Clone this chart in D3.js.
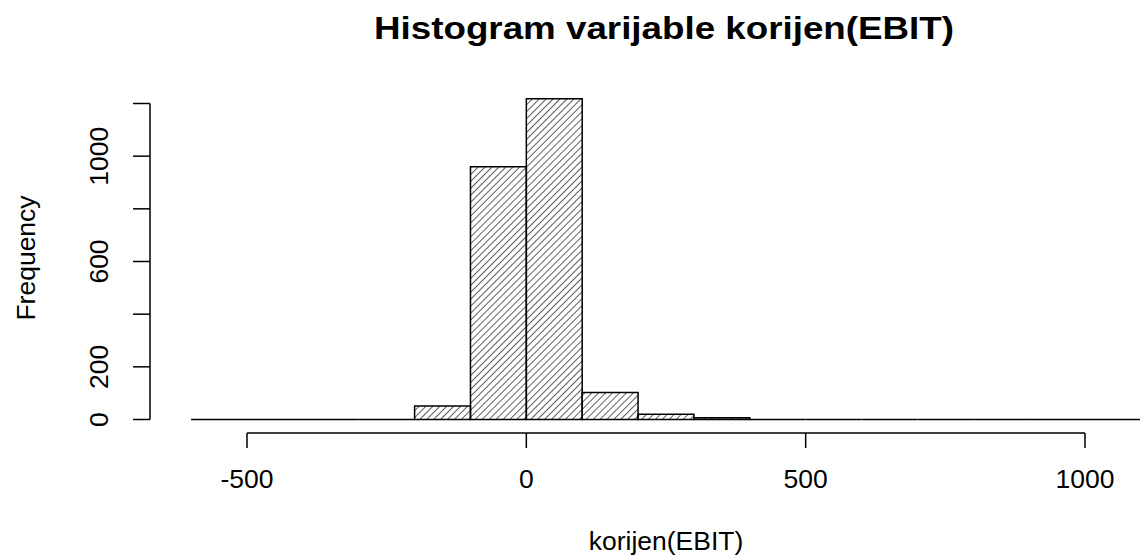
<!DOCTYPE html>
<html>
<head>
<meta charset="utf-8">
<script src="https://cdn.jsdelivr.net/npm/d3@7"></script>
<style>
  html, body { margin: 0; padding: 0; background: #fff; }
  svg { display: block; }
  text { font-family: "Liberation Sans", Arial, sans-serif; fill: #000; }
</style>
</head>
<body>
<svg id="chart" width="1140" height="555"></svg>
<script>
// Histogram bins (lower edges, width 100) and counts
const binStarts = [-600, -500, -400, -300, -200, -100, 0, 100, 200, 300, 400, 500, 600, 700, 800, 900, 1000, 1100];
const binWidth = 100;
const counts    = [0, 0, 0, 0, 51, 960, 1218, 103, 20, 7, 0, 0, 0, 0, 0, 0, 0, 0];
const xTicks = [-500, 0, 500, 1000];
const yTicks = [0, 200, 400, 600, 800, 1000, 1200];
const yTickLabels = ["0", "200", "", "600", "", "1000", ""];
const titleText = "Histogram varijable korijen(EBIT)";
const xLabel = "korijen(EBIT)";
const yLabel = "Frequency";

const svg = d3.select("#chart");
const x = d3.scaleLinear().domain([-500, 1000]).range([247, 1085]);
const y = d3.scaleLinear().domain([0, 1200]).range([419.5, 103.5]);

// hatch pattern
const defs = svg.append("defs");
const pat = defs.append("pattern")
  .attr("id", "hatch")
  .attr("patternUnits", "userSpaceOnUse")
  .attr("width", 4.9).attr("height", 4.9)
  .attr("patternTransform", "rotate(45)");
pat.append("line")
  .attr("x1", 0).attr("y1", -1).attr("x2", 0).attr("y2", 6)
  .attr("stroke", "#111").attr("stroke-width", 1.35);

const bins = binStarts.map((s, i) => ({ x0: s, x1: s + binWidth, n: counts[i] }));

const bars = svg.append("g");
bars.selectAll("rect.fill")
  .data(bins.filter(d => d.n > 0))
  .join("rect")
  .attr("x", d => x(d.x0))
  .attr("y", d => y(d.n))
  .attr("width", d => x(d.x1) - x(d.x0))
  .attr("height", d => y(0) - y(d.n))
  .attr("fill", "url(#hatch)");
bars.selectAll("path.border")
  .data(bins)
  .join("path")
  .attr("d", d => `M${x(d.x0)},${y(0)}V${y(d.n)}H${x(d.x1)}V${y(0)}Z`)
  .attr("fill", "none")
  .attr("stroke", "#000")
  .attr("stroke-width", 1.5);

// x axis (R style, offset below)
const xAxisY = 433;
const gx = svg.append("g").attr("transform", `translate(0,${xAxisY})`);
gx.append("line")
  .attr("x1", x(xTicks[0])).attr("x2", x(xTicks[xTicks.length - 1]))
  .attr("y1", 0).attr("y2", 0)
  .attr("stroke", "#000").attr("stroke-width", 1.5);
gx.selectAll("line.tick").data(xTicks).join("line")
  .attr("x1", d => x(d)).attr("x2", d => x(d))
  .attr("y1", 0).attr("y2", 15)
  .attr("stroke", "#000").attr("stroke-width", 1.5);
gx.selectAll("text").data(xTicks).join("text")
  .attr("x", d => x(d)).attr("y", 55)
  .attr("text-anchor", "middle")
  .attr("font-size", 26.5)
  .text(d => d);

// y axis
const yAxisX = 150;
const gy = svg.append("g").attr("transform", `translate(${yAxisX},0)`);
gy.append("line")
  .attr("x1", 0).attr("x2", 0)
  .attr("y1", y(yTicks[0])).attr("y2", y(yTicks[yTicks.length - 1]))
  .attr("stroke", "#000").attr("stroke-width", 1.5);
gy.selectAll("line.tick").data(yTicks).join("line")
  .attr("x1", 0).attr("x2", -17)
  .attr("y1", d => y(d)).attr("y2", d => y(d))
  .attr("stroke", "#000").attr("stroke-width", 1.5);
gy.selectAll("text").data(yTicks.map((t, i) => ({ t, lab: yTickLabels[i] })).filter(d => d.lab))
  .join("text")
  .attr("transform", d => `translate(-42,${y(d.t)}) rotate(-90)`)
  .attr("text-anchor", "middle")
  .attr("font-size", 26.5)
  .text(d => d.lab);

// title
svg.append("text")
  .attr("x", 664).attr("y", 39)
  .attr("text-anchor", "middle")
  .attr("font-size", 32)
  .attr("font-weight", "bold")
  .attr("textLength", 580)
  .attr("lengthAdjust", "spacingAndGlyphs")
  .text(titleText);

// x label
svg.append("text")
  .attr("x", 666).attr("y", 550)
  .attr("text-anchor", "middle")
  .attr("font-size", 26.5)
  .text(xLabel);

// y label
svg.append("text")
  .attr("transform", "translate(35,258) rotate(-90)")
  .attr("text-anchor", "middle")
  .attr("font-size", 26.5)
  .text(yLabel);
</script>
</body>
</html>
